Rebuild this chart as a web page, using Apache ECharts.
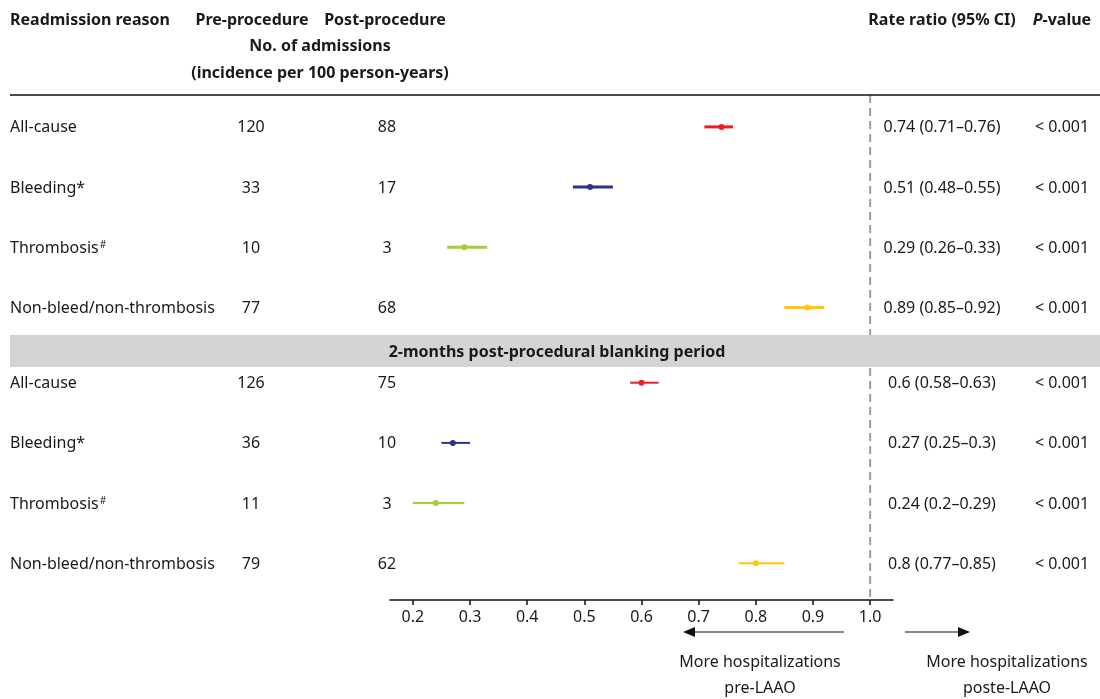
<!DOCTYPE html>
<html><head><meta charset="utf-8">
<script src="https://cdn.jsdelivr.net/npm/echarts@6/dist/echarts.min.js"></script>
<style>html,body{margin:0;padding:0;background:#fff}#c{width:1100px;height:699px}</style>
</head><body><div id="c"></div>
<script>
// ---- data ----
const reasons = ['All-cause', 'Bleeding*', 'Thrombosis#', 'Non-bleed/non-thrombosis'];
const preMain = [120, 33, 10, 77];
const postMain = [88, 17, 3, 68];
const rrMain = [0.74, 0.51, 0.29, 0.89];
const loMain = [0.71, 0.48, 0.26, 0.85];
const hiMain = [0.76, 0.55, 0.33, 0.92];
const pMain = ['< 0.001', '< 0.001', '< 0.001', '< 0.001'];

const preBlank = [126, 36, 11, 79];
const postBlank = [75, 10, 3, 62];
const rrBlank = [0.6, 0.27, 0.24, 0.8];
const loBlank = [0.58, 0.25, 0.2, 0.77];
const hiBlank = [0.63, 0.3, 0.29, 0.85];
const pBlank = ['< 0.001', '< 0.001', '< 0.001', '< 0.001'];

const tickValues = [0.2, 0.3, 0.4, 0.5, 0.6, 0.7, 0.8, 0.9, 1.0];
const bandLabel = '2-months post-procedural blanking period';

// ---- styling ----
const colors = ['#ee1c25', '#2e3192', '#a3cd39', '#ffc80a'];
const FONT = '"Noto Sans", sans-serif';
const TXT = '#1a1a1a';
const FS = 16;
const GROUP2_OFFSET = 4.25;

const rows = [];
for (let i = 0; i < reasons.length; i++) {
  rows.push([loMain[i], hiMain[i], rrMain[i], i, 0, i]);
}
for (let i = 0; i < reasons.length; i++) {
  rows.push([loBlank[i], hiBlank[i], rrBlank[i], i + GROUP2_OFFSET, 1, i]);
}

function labelRich(name) {
  if (name.endsWith('#')) return '{n|' + name.slice(0, -1) + '}{s|#}';
  return '{n|' + name + '}';
}

const chart = echarts.init(document.getElementById('c'), null, {renderer: 'canvas'});

function renderRow(params, api) {
  const lo = api.value(0), hi = api.value(1), rr = api.value(2), y = api.value(3);
  const g = api.value(4), idx = api.value(5);
  const p1 = api.coord([lo, y]), p2 = api.coord([hi, y]), pc = api.coord([rr, y]);
  const col = colors[idx];
  const pre = g === 0 ? preMain[idx] : preBlank[idx];
  const post = g === 0 ? postMain[idx] : postBlank[idx];
  const pv = g === 0 ? pMain[idx] : pBlank[idx];
  const ci = String(rr) + ' (' + String(lo) + '\u2013' + String(hi) + ')';
  const ty = pc[1] + 1;
  const lw = g === 0 ? 3 : 2;
  const txt = (text, x, align) => ({
    type: 'text', silent: true,
    style: {text: text, x: x, y: ty, align: align, verticalAlign: 'middle', fill: TXT, font: FS + 'px ' + FONT}
  });
  return {
    type: 'group',
    children: [
      {type: 'line', shape: {x1: p1[0], y1: p1[1], x2: p2[0], y2: p2[1]}, style: {stroke: col, lineWidth: lw}},
      {type: 'circle', shape: {cx: pc[0], cy: pc[1], r: 3}, style: {fill: col}},
      {type: 'text', silent: true, style: {
        text: labelRich(reasons[idx]), x: 10, y: ty, align: 'left', verticalAlign: 'middle',
        rich: {
          n: {fontSize: FS, fontFamily: FONT, fill: TXT, color: TXT},
          s: {fontSize: 10, fontFamily: FONT, fill: TXT, color: TXT, verticalAlign: 'top', padding: [0, 0, 6, 1]}
        }
      }},
      txt(String(pre), 251, 'center'),
      txt(String(post), 387, 'center'),
      txt(ci, 942, 'center'),
      txt(pv, 1062, 'center')
    ]
  };
}

const option = {
  animation: false,
  backgroundColor: '#fff',
  grid: {left: 390, right: 207, top: 95, bottom: 99, containLabel: false},
  xAxis: {
    type: 'value', min: 0.16, max: 1.04,
    axisLine: {show: true, onZero: false, lineStyle: {color: '#111', width: 1.5}},
    axisTick: {show: true, customValues: tickValues, length: 5, inside: false, lineStyle: {color: '#111', width: 1.5}},
    axisLabel: {show: true, customValues: tickValues, formatter: v => v.toFixed(1), color: TXT, fontSize: FS, fontFamily: FONT, margin: 9},
    splitLine: {show: false}
  },
  yAxis: {
    type: 'value', inverse: true, min: -0.53, max: 7.86, show: false
  },
  series: [
    {
      type: 'line', data: [[1, -0.53], [1, 7.86]], symbol: 'none', silent: true, z: 1,
      lineStyle: {color: '#9d9d9d', width: 2, type: [8, 5]}
    },
    {
      type: 'custom', data: rows, renderItem: renderRow, clip: false, z: 3,
      encode: {x: [0, 1, 2], y: 3}
    }
  ],
  graphic: [
    {type: 'rect', z: 100, shape: {x: 10, y: 335, width: 1090, height: 32}, style: {fill: '#d3d4d6'}},
    {type: 'text', z: 101, style: {text: bandLabel, x: 557, y: 352, align: 'center', verticalAlign: 'middle', fill: TXT, font: 'bold ' + FS + 'px ' + FONT}},
    {type: 'line', z: 100, shape: {x1: 10, y1: 95, x2: 1100, y2: 95}, style: {stroke: '#111', lineWidth: 1.5}},
    // headers
    {type: 'text', style: {text: 'Readmission reason', x: 10, y: 20, align: 'left', verticalAlign: 'middle', fill: TXT, font: 'bold ' + FS + 'px ' + FONT}},
    {type: 'text', style: {text: 'Pre-procedure', x: 252, y: 20, align: 'center', verticalAlign: 'middle', fill: TXT, font: 'bold ' + FS + 'px ' + FONT}},
    {type: 'text', style: {text: 'Post-procedure', x: 385, y: 20, align: 'center', verticalAlign: 'middle', fill: TXT, font: 'bold ' + FS + 'px ' + FONT}},
    {type: 'text', style: {text: 'No. of admissions', x: 320, y: 46, align: 'center', verticalAlign: 'middle', fill: TXT, font: 'bold ' + FS + 'px ' + FONT}},
    {type: 'text', style: {text: '(incidence per 100 person-years)', x: 320, y: 73, align: 'center', verticalAlign: 'middle', fill: TXT, font: 'bold ' + FS + 'px ' + FONT}},
    {type: 'text', style: {text: 'Rate ratio (95% CI)', x: 942, y: 20, align: 'center', verticalAlign: 'middle', fill: TXT, font: 'bold ' + FS + 'px ' + FONT}},
    {type: 'text', style: {
      text: '{i|P}{b|-value}', x: 1062, y: 20, align: 'center', verticalAlign: 'middle',
      rich: {i: {fontStyle: 'italic', fontWeight: 'bold', fontSize: FS, fontFamily: FONT, fill: TXT, color: TXT},
             b: {fontWeight: 'bold', fontSize: FS, fontFamily: FONT, fill: TXT, color: TXT}}
    }},
    // arrows
    {type: 'line', shape: {x1: 844, y1: 632, x2: 692, y2: 632}, style: {stroke: '#111', lineWidth: 1.2}},
    {type: 'polygon', shape: {points: [[683, 632], [695, 627], [695, 637]]}, style: {fill: '#111'}},
    {type: 'line', shape: {x1: 905, y1: 632, x2: 960, y2: 632}, style: {stroke: '#111', lineWidth: 1.2}},
    {type: 'polygon', shape: {points: [[970, 632], [958, 627], [958, 637]]}, style: {fill: '#111'}},
    {type: 'text', style: {text: 'More hospitalizations\npre-LAAO', x: 760, y: 649, align: 'center', verticalAlign: 'top', lineHeight: 26, fill: TXT, font: FS + 'px ' + FONT}},
    {type: 'text', style: {text: 'More hospitalizations\nposte-LAAO', x: 1007, y: 649, align: 'center', verticalAlign: 'top', lineHeight: 26, fill: TXT, font: FS + 'px ' + FONT}}
  ]
};
chart.setOption(option);
</script>
</body></html>
